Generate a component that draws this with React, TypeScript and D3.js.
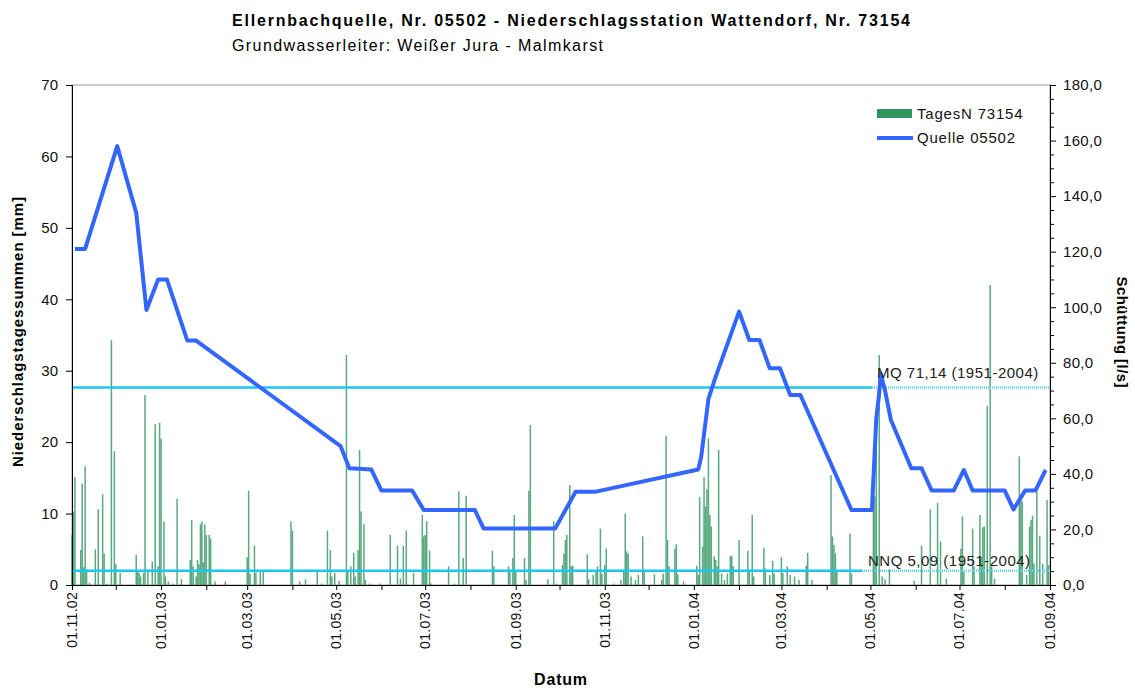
import { useEffect, useRef } from "react";
import * as d3 from "d3";

// Tagesniederschlag Station 73154: [Tag seit 01.11.2002, mm]
const tagesN: [number, number][] = [
  [0, 7.0], [1, 10.3], [2, 15.1], [6, 4.9], [7, 14.2], [8, 2.5], [9, 16.6], [10, 2.2], [12, 0.3], [16, 5.0],
  [18, 10.6], [21, 12.7], [22, 4.4], [24, 0.2], [27, 34.3], [29, 18.7], [30, 2.9], [33, 1.7], [44, 4.2], [45, 1.9],
  [46, 1.7], [47, 1.2], [49, 1.7], [50, 26.6], [52, 1.9], [55, 3.3], [57, 22.5], [59, 2.6], [60, 22.7], [61, 20.5],
  [63, 8.9], [64, 1.2], [66, 0.5], [69, 0.2], [72, 12.1], [75, 0.8], [81, 3.5], [82, 9.1], [83, 2.6], [85, 1.2],
  [86, 3.5], [87, 2.9], [88, 8.5], [89, 8.9], [90, 3.2], [91, 8.5], [92, 7.0], [94, 7.0], [95, 6.5], [98, 0.5],
  [105, 0.5], [120, 3.9], [121, 13.2], [122, 1.6], [125, 5.5], [126, 1.7], [129, 1.9], [131, 1.9], [150, 8.9], [151, 7.6],
  [156, 0.5], [160, 0.8], [168, 1.9], [171, 0.2], [175, 7.6], [177, 4.9], [178, 1.2], [180, 1.7], [183, 0.6], [188, 32.2],
  [189, 1.9], [191, 2.6], [193, 4.5], [194, 1.2], [196, 4.9], [197, 18.9], [198, 10.3], [200, 8.5], [201, 0.7], [204, 0.2],
  [211, 0.2], [218, 7.0], [223, 5.5], [225, 0.9], [227, 5.5], [229, 7.6], [234, 1.7], [240, 9.8], [241, 6.8], [242, 7.0],
  [243, 8.9], [245, 4.8], [246, 0.2], [258, 2.6], [262, 0.2], [265, 13.1], [268, 3.8], [270, 12.5], [288, 4.8], [289, 2.6],
  [299, 2.6], [300, 1.9], [302, 3.8], [303, 9.8], [304, 1.9], [310, 3.8], [311, 0.7], [313, 13.2], [314, 22.4], [326, 0.8],
  [330, 8.9], [332, 0.2], [336, 2.8], [337, 4.4], [338, 6.3], [339, 7.0], [341, 14.0], [342, 2.6], [343, 2.7], [353, 4.3],
  [354, 0.8], [357, 1.4], [359, 1.9], [360, 2.6], [362, 7.9], [363, 1.6], [365, 2.8], [366, 5.1], [371, 0.2], [376, 0.7],
  [378, 1.9], [379, 10.0], [380, 4.7], [381, 4.4], [383, 1.2], [386, 0.7], [388, 1.4], [391, 6.8], [392, 2.1], [399, 1.5],
  [404, 0.7], [405, 1.6], [407, 20.9], [408, 6.3], [409, 2.6], [413, 5.1], [414, 5.7], [415, 1.5], [419, 0.5], [428, 2.7],
  [429, 1.4], [430, 12.3], [432, 5.4], [433, 15.1], [434, 11.0], [435, 13.4], [436, 20.5], [437, 9.8], [438, 8.2], [440, 4.0],
  [441, 3.5], [442, 2.6], [443, 18.9], [445, 1.6], [447, 0.7], [449, 1.6], [451, 4.0], [452, 4.1], [453, 2.6], [457, 6.3],
  [463, 4.8], [464, 1.9], [466, 9.8], [467, 1.2], [474, 5.2], [475, 2.3], [478, 1.4], [480, 3.4], [481, 1.6], [486, 3.9],
  [487, 1.7], [490, 2.6], [492, 1.4], [495, 1.2], [498, 0.7], [503, 2.7], [504, 4.5], [507, 0.7], [520, 15.4], [521, 6.8],
  [522, 5.6], [523, 4.4], [524, 1.9], [533, 7.2], [534, 1.6], [549, 15.0], [550, 12.4], [551, 21.7], [553, 32.2], [555, 1.2],
  [557, 0.8], [560, 2.2], [577, 0.6], [582, 5.5], [588, 10.6], [593, 11.5], [595, 6.1], [599, 0.9], [609, 5.1], [610, 9.6],
  [611, 1.9], [617, 7.9], [618, 2.6], [622, 9.8], [623, 4.0], [624, 8.1], [625, 8.2], [627, 25.1], [629, 42.0], [630, 2.6],
  [632, 0.9], [649, 18.0], [650, 11.9], [651, 11.7], [654, 1.4], [656, 8.2], [657, 9.1], [658, 9.7], [659, 3.0], [661, 13.1],
  [663, 6.9], [665, 3.0], [668, 11.9], [669, 2.8],
];

// Schuettung Quelle 05502: [Tag seit 01.11.2002, l/s]
const quelle: [number, number][] = [
  [2, 121], [9, 121], [31, 158], [44, 134], [51, 99], [59, 110], [65, 110], [79, 88], [85, 88], [184, 50],
  [190, 42], [205, 41.6], [212, 34], [233, 34], [241, 27], [276, 27], [282, 20.3], [331, 20.3], [345, 33.6], [359, 33.6],
  [429, 41.6], [431, 46], [436, 67], [441, 75], [457, 98.4], [464, 88.2], [471, 88.2], [478, 78], [485, 78], [492, 68.4],
  [499, 68.4], [534, 27], [548, 27], [549, 38], [551, 60], [553, 69], [554, 76], [557, 70], [561, 59.4], [575, 42],
  [582, 42], [589, 34], [604, 34], [611, 41.4], [617, 34], [639, 34], [645, 27.2], [653, 34], [660, 34], [667, 41.4],
];

const kennwerte = [
  { label: "MQ 71,14 (1951-2004)", value: 71.14 },
  { label: "NNQ 5,09 (1951-2004)", value: 5.09 },
];

const legendItems = ["TagesN 73154", "Quelle 05502"];

const start = new Date(Date.UTC(2002, 10, 1));
const end = new Date(Date.UTC(2004, 8, 1));
const font = "Liberation Sans, Arial, sans-serif";

export default function App() {
  const ref = useRef<SVGSVGElement>(null);

  useEffect(() => {
    const svg = d3.select(ref.current);
    svg.selectAll("*").remove();

    const left = 72, right = 1050, top = 85, bottom = 585;
    const day = (d: number) => d3.utcDay.offset(start, d);

    const x = d3.scaleUtc().domain([start, end]).range([left, right]);
    const yL = d3.scaleLinear().domain([0, 70]).range([bottom, top]);
    const yR = d3.scaleLinear().domain([0, 180]).range([bottom, top]);

    // Rahmen der Zeichenflaeche
    svg.append("rect")
      .attr("x", left).attr("y", top)
      .attr("width", right - left).attr("height", bottom - top)
      .attr("fill", "white").attr("stroke", "#999").attr("stroke-width", 1);

    // Tagesniederschlag
    svg.append("g").selectAll("rect")
      .data(tagesN)
      .join("rect")
      .attr("x", d => x(day(d[0])) - 0.75)
      .attr("width", 1.5)
      .attr("y", d => yL(d[1]))
      .attr("height", d => bottom - yL(d[1]))
      .attr("fill", "#2f955f")
      .attr("fill-opacity", 0.8);

    // MQ / NNQ, unter der Beschriftung gepunktet
    const labelSpan = [[872, 1045], [862, 1038]];
    kennwerte.forEach((k, i) => {
      svg.append("line")
        .attr("x1", left).attr("x2", labelSpan[i][0])
        .attr("y1", yR(k.value)).attr("y2", yR(k.value))
        .attr("stroke", "#19c8f2").attr("stroke-width", 2.5);
      svg.append("line")
        .attr("x1", labelSpan[i][0]).attr("x2", right)
        .attr("y1", yR(k.value)).attr("y2", yR(k.value))
        .attr("stroke", "#5fd3f4").attr("stroke-width", 2.5)
        .attr("stroke-dasharray", "1 1");
    });

    // Quelle
    const line = d3.line<[number, number]>()
      .x(d => x(day(d[0])))
      .y(d => yR(d[1]));
    svg.append("path")
      .datum(quelle)
      .attr("d", line)
      .attr("fill", "none")
      .attr("stroke", "#3366ff")
      .attr("stroke-width", 4)
      .attr("stroke-linejoin", "round");

    svg.append("text").attr("x", 877).attr("y", yR(71.14) - 9)
      .attr("font-family", font).attr("font-size", 15).attr("letter-spacing", 0.5).attr("fill", "#222")
      .text(kennwerte[0].label);
    svg.append("text").attr("x", 868).attr("y", yR(5.09) - 5)
      .attr("font-family", font).attr("font-size", 15).attr("letter-spacing", 0.5).attr("fill", "#222")
      .text(kennwerte[1].label);

    // Achsen
    const months = d3.utcMonth.range(start, d3.utcDay.offset(end, 1));
    const xAxis = svg.append("g").attr("transform", `translate(0,${bottom})`)
      .call(d3.axisBottom(x).tickValues(months).tickSize(5).tickFormat(() => ""));
    xAxis.select(".domain").attr("stroke", "#000");
    xAxis.selectAll("line").attr("stroke", "#000");

    svg.append("g").selectAll("text")
      .data(months.filter((m, i) => i % 2 === 0))
      .join("text")
      .attr("transform", d => `translate(${x(d) + 5},592) rotate(-90)`)
      .attr("text-anchor", "end")
      .attr("font-family", font).attr("font-size", 14).attr("letter-spacing", 0.3).attr("fill", "#111")
      .text(d => d3.utcFormat("%d.%m.%y")(d));

    const yAxisL = svg.append("g").attr("transform", `translate(${left},0)`)
      .call(d3.axisLeft(yL).tickValues(d3.range(0, 71, 10)).tickSize(6).tickPadding(8));
    yAxisL.selectAll("text").attr("font-family", font).attr("font-size", 15).attr("fill", "#111");

    const yAxisR = svg.append("g").attr("transform", `translate(${right},0)`)
      .call(d3.axisRight(yR).tickValues(d3.range(0, 181, 5)).tickSize(5).tickPadding(8)
        .tickFormat(d => (+d % 20 === 0 ? d3.format(".1f")(+d).replace(".", ",") : "")));
    yAxisR.selectAll("text").attr("font-family", font).attr("font-size", 15).attr("letter-spacing", 0.3).attr("fill", "#111");
    yAxisR.selectAll(".tick line").attr("x2", (d: any) => (d % 20 === 0 ? 6 : 4));

    // Achsentitel
    svg.append("text")
      .attr("transform", "translate(23,332) rotate(-90)")
      .attr("text-anchor", "middle")
      .attr("font-family", font).attr("font-size", 15).attr("font-weight", "bold")
      .attr("textLength", 270).attr("lengthAdjust", "spacing")
      .text("Niederschlagstagessummen [mm]");
    svg.append("text")
      .attr("transform", "translate(1117,332) rotate(90)")
      .attr("text-anchor", "middle")
      .attr("font-family", font).attr("font-size", 15).attr("font-weight", "bold")
      .attr("textLength", 111).attr("lengthAdjust", "spacing")
      .text("Schüttung [l/s]");
    svg.append("text")
      .attr("x", 561).attr("y", 685)
      .attr("text-anchor", "middle")
      .attr("font-family", font).attr("font-size", 16).attr("font-weight", "bold")
      .attr("letter-spacing", 0.8)
      .text("Datum");

    // Titel
    svg.append("text")
      .attr("x", 232).attr("y", 26)
      .attr("font-family", font).attr("font-size", 16).attr("font-weight", "bold")
      .attr("textLength", 678).attr("lengthAdjust", "spacing")
      .text("Ellernbachquelle, Nr. 05502 - Niederschlagsstation Wattendorf, Nr. 73154");
    svg.append("text")
      .attr("x", 232).attr("y", 51)
      .attr("font-family", font).attr("font-size", 16)
      .attr("textLength", 371).attr("lengthAdjust", "spacing")
      .text("Grundwasserleiter: Weißer Jura - Malmkarst");

    // Legende
    const lg = svg.append("g").attr("font-family", font).attr("font-size", 15).attr("letter-spacing", 0.8);
    lg.append("rect").attr("x", 877).attr("y", 109).attr("width", 35).attr("height", 9).attr("fill", "#2f955f");
    lg.append("line").attr("x1", 877).attr("x2", 913).attr("y1", 138).attr("y2", 138)
      .attr("stroke", "#3366ff").attr("stroke-width", 4);
    lg.selectAll("text.item")
      .data(legendItems)
      .join("text")
      .attr("class", "item")
      .attr("x", 917)
      .attr("y", (d, i) => 119 + i * 24)
      .attr("fill", "#111")
      .text(d => d);
  }, []);

  return (
    <svg ref={ref} width={1135} height={689}
      style={{ position: "absolute", left: 0, top: 0, background: "white" }} />
  );
}
